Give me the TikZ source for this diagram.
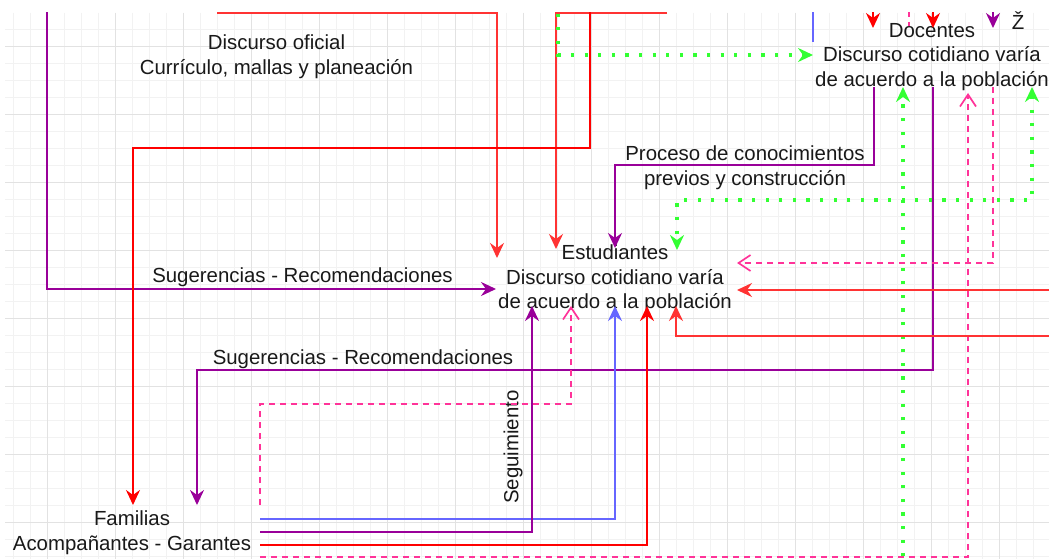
\documentclass[tikz,border=0pt]{standalone}
\usepackage{fontspec}
\setmainfont{Liberation Sans}
\usetikzlibrary{arrows.meta}
\definecolor{cred}{HTML}{FF3333}
\definecolor{dred}{HTML}{FF0000}
\definecolor{cpur}{HTML}{990099}
\definecolor{cblue}{HTML}{6666FF}
\definecolor{cpink}{HTML}{FF3399}
\definecolor{cgreen}{HTML}{33FF33}
\definecolor{gminor}{HTML}{F2F2F2}
\definecolor{gmajor}{HTML}{E2E2E2}
\begin{document}
\begin{tikzpicture}[x=1pt,y=-1pt,
  lbl/.style={font=\fontsize{20.4}{24.6}\selectfont, align=center, inner sep=0pt, text=black!90},
  tipc/.style={-{Stealth[length=15pt,width=14pt,inset=5pt]}},
  tipcc/.style={{Stealth[length=15pt,width=14pt,inset=5pt]}-{Stealth[length=15pt,width=14pt,inset=5pt]}},
  tipo/.style={-{Straight Barb[length=12pt,width=16pt]}},
  redl/.style={draw=cred, line width=2pt},
  dredl/.style={draw=dred, line width=2pt},
  purl/.style={draw=cpur, line width=2pt},
  blul/.style={draw=cblue, line width=1.6pt},
  pinkl/.style={draw=cpink, line width=1.7pt, dash pattern=on 6pt off 5pt},
  grnl/.style={draw=cgreen, line width=3.2pt, dash pattern=on 3.2pt off 10.4pt},
]
\useasboundingbox (0,0) rectangle (1049,559);
\fill[white] (0,0) rectangle (1049,559);
% grid
\foreach \k in {-2,...,58} \draw[gminor, line width=0.8pt] ({47+17*\k},13) -- ({47+17*\k},559);
\foreach \k in {-1,...,30} \draw[gminor, line width=0.8pt] (5,{46+17*\k}) -- (1049,{46+17*\k});
\foreach \k in {0,...,14} \draw[gmajor, line width=0.9pt] ({47+68*\k},13) -- ({47+68*\k},559);
\foreach \k in {0,...,7} \draw[gmajor, line width=0.9pt] (5,{46+68*\k}) -- (1049,{46+68*\k});

% text nodes
\node[lbl] (ofi) at (276.5,56.5) {Discurso oficial\\Currículo, mallas y planeación};
\node[lbl] (doc) at (932,57) {Docentes\\Discurso cotidiano varía\\de acuerdo a la población};
\node[lbl] (est) at (615,279) {Estudiantes\\Discurso cotidiano varía\\de acuerdo a la población};
\node[lbl] (fam) at (132,533) {Familias\\Acompañantes - Garantes};
\node[lbl] (sug1) at (302.5,277) {Sugerencias - Recomendaciones};
\node[lbl] (sug2) at (363,359) {Sugerencias - Recomendaciones};
\node[lbl] (proc) at (745,168) {Proceso de conocimientos\\previos y construcción};
\node[lbl, rotate=90] (seg) at (513,447) {Seguimiento};
\node[lbl] (zz) at (1018,21) {Ž};

% connector end points
\coordinate (pA) at (47,0);      \coordinate (eL) at (496,289);
\coordinate (rA) at (217,13);    \coordinate (eT1) at (497,258);
\coordinate (rB) at (667,13);    \coordinate (eT2) at (556,249);
\coordinate (rC) at (590,0);     \coordinate (rCk) at (133,148);  \coordinate (fT1) at (133,505);
\coordinate (gA) at (558,0);     \coordinate (dL) at (813,55);
\coordinate (bA) at (813,0);     \coordinate (bB) at (813,42);
\coordinate (t1a) at (873,0);    \coordinate (t1b) at (873,28);
\coordinate (t2a) at (933,0);    \coordinate (t2b) at (933,28);
\coordinate (t3a) at (993,0);    \coordinate (t3b) at (993,28);
\coordinate (t4a) at (909,0);    \coordinate (t4b) at (909,26);
\coordinate (dB1) at (874,87);   \coordinate (k1) at (615,165);   \coordinate (eT3) at (615,248);
\coordinate (dB2) at (933,87);   \coordinate (k2) at (197,370);   \coordinate (fT2) at (197,505);
\coordinate (gB) at (903,570);   \coordinate (dB3) at (903,87);
\coordinate (pkA) at (260,557);  \coordinate (dB4) at (968,93);
\coordinate (dB5) at (993,87);   \coordinate (eR1) at (737,263);
\coordinate (dB6) at (1032,87);  \coordinate (k3) at (677,200);   \coordinate (eT4) at (677,250);
\coordinate (rR1) at (1070,290); \coordinate (eR2) at (737,290);
\coordinate (rR2) at (1070,336); \coordinate (eB5) at (676,306);
\coordinate (fB1) at (260,519);  \coordinate (eB3) at (615,306);
\coordinate (fB2) at (260,532);  \coordinate (eB1) at (532,306);
\coordinate (fB3) at (260,545);  \coordinate (eB4) at (647,306);
\coordinate (fB4) at (260,505);  \coordinate (k4) at (571,404);   \coordinate (eB2) at (571,306);

\begin{scope}
\clip (0,12.5) rectangle (1049,559);
\draw[purl,tipc] (pA) |- (eL);
\draw[redl,tipc] (rA) -| (eT1);
\draw[redl,tipc] (rB) -| (eT2);
\draw[dredl,tipc] (rC) |- (rCk) -- (fT1);
\draw[grnl,tipc] (gA) |- (dL);
\draw[blul] (bA) -- (bB);
\draw[dredl,tipc] (t1a) -- (t1b);
\draw[dredl,tipc] (t2a) -- (t2b);
\draw[purl,tipc] (t3a) -- (t3b);
\draw[pinkl] (t4a) -- (t4b);
\draw[purl,tipc] (dB1) |- (k1) -- (eT3);
\draw[purl,tipc] (dB2) |- (k2) -- (fT2);
\draw[grnl,tipc] (gB) -- (dB3);
\draw[pinkl,tipo] (pkA) -| (dB4);
\draw[pinkl,tipo] (dB5) |- (eR1);
\draw[grnl,tipcc] (dB6) |- (k3) -- (eT4);
\draw[redl,tipc] (rR1) -- (eR2);
\draw[redl,tipc] (rR2) -| (eB5);
\draw[blul,tipc] (fB1) -| (eB3);
\draw[purl,tipc] (fB2) -| (eB1);
\draw[dredl,tipc] (fB3) -| (eB4);
\draw[pinkl,tipo] (fB4) |- (k4) -- (eB2);
\end{scope}
\end{tikzpicture}
\end{document}
